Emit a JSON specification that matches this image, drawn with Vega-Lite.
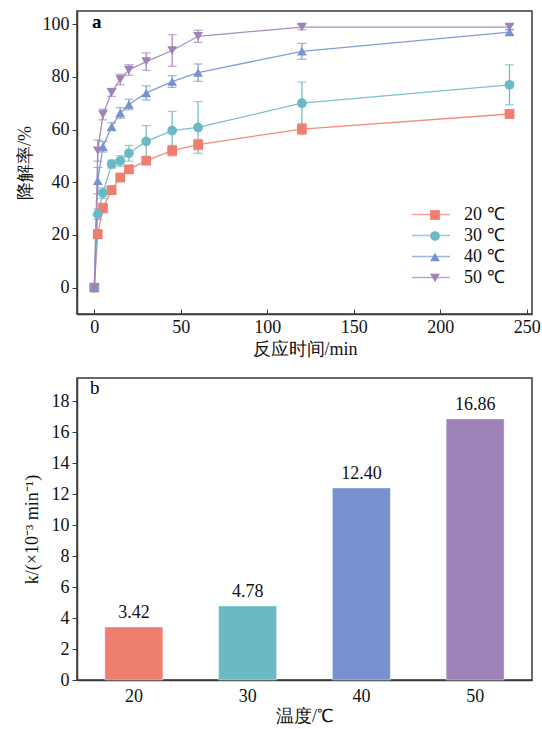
{
  "$schema": "https://vega.github.io/schema/vega-lite/v6.json",
  "padding": {"left": 15, "top": 10, "right": 5, "bottom": 2},
  "spacing": 18,
  "resolve": {"scale": {"fill": "independent", "color": "independent", "stroke": "independent", "shape": "independent"}, "legend": {"fill": "independent", "stroke": "independent", "shape": "independent", "color": "independent"}},
  "config": {
    "font": "Liberation Serif",
    "view": {"stroke": "#3a3a3a", "strokeWidth": 1.5},
    "axis": {
      "labelFont": "Liberation Serif",
      "titleFont": "Liberation Serif",
      "labelFontSize": 18,
      "titleFontSize": 18,
      "labelColor": "#111",
      "titleColor": "#111",
      "titleFontWeight": "normal",
      "domainColor": "#3a3a3a",
      "domainWidth": 1.5,
      "tickColor": "#3a3a3a",
      "tickWidth": 1,
      "grid": false
    },
    "legend": {"labelFont": "Liberation Serif"}
  },
  "datasets": {
    "kinetics": [
      {"temp": "20 ℃", "time": 0, "rate": 0, "err": 0.5},
      {"temp": "20 ℃", "time": 2, "rate": 20.3, "err": 1.5},
      {"temp": "20 ℃", "time": 5, "rate": 30.2, "err": 1.8},
      {"temp": "20 ℃", "time": 10, "rate": 37, "err": 1.5},
      {"temp": "20 ℃", "time": 15, "rate": 41.8, "err": 1},
      {"temp": "20 ℃", "time": 20, "rate": 44.9, "err": 1},
      {"temp": "20 ℃", "time": 30, "rate": 48.2, "err": 1.5},
      {"temp": "20 ℃", "time": 45, "rate": 52, "err": 2},
      {"temp": "20 ℃", "time": 60, "rate": 54.3, "err": 2},
      {"temp": "20 ℃", "time": 120, "rate": 60.2, "err": 2},
      {"temp": "20 ℃", "time": 240, "rate": 65.9, "err": 1.5},
      {"temp": "30 ℃", "time": 0, "rate": 0, "err": 0.5},
      {"temp": "30 ℃", "time": 2, "rate": 27.9, "err": 2},
      {"temp": "30 ℃", "time": 5, "rate": 35.9, "err": 2},
      {"temp": "30 ℃", "time": 10, "rate": 46.9, "err": 1.5},
      {"temp": "30 ℃", "time": 15, "rate": 48.1, "err": 2},
      {"temp": "30 ℃", "time": 20, "rate": 51, "err": 3},
      {"temp": "30 ℃", "time": 30, "rate": 55.5, "err": 6},
      {"temp": "30 ℃", "time": 45, "rate": 59.6, "err": 7.3},
      {"temp": "30 ℃", "time": 60, "rate": 60.8, "err": 9.8},
      {"temp": "30 ℃", "time": 120, "rate": 70, "err": 8},
      {"temp": "30 ℃", "time": 240, "rate": 77, "err": 7.6},
      {"temp": "40 ℃", "time": 0, "rate": 0, "err": 0.5},
      {"temp": "40 ℃", "time": 2, "rate": 40.6, "err": 5},
      {"temp": "40 ℃", "time": 5, "rate": 53.5, "err": 2},
      {"temp": "40 ℃", "time": 10, "rate": 61.1, "err": 1.5},
      {"temp": "40 ℃", "time": 15, "rate": 66.3, "err": 2},
      {"temp": "40 ℃", "time": 20, "rate": 69.5, "err": 2},
      {"temp": "40 ℃", "time": 30, "rate": 73.9, "err": 2.7},
      {"temp": "40 ℃", "time": 45, "rate": 78.2, "err": 2.2},
      {"temp": "40 ℃", "time": 60, "rate": 81.6, "err": 3.3},
      {"temp": "40 ℃", "time": 120, "rate": 89.7, "err": 3},
      {"temp": "40 ℃", "time": 240, "rate": 97, "err": 1},
      {"temp": "50 ℃", "time": 0, "rate": 0, "err": 0.5},
      {"temp": "50 ℃", "time": 2, "rate": 52, "err": 4},
      {"temp": "50 ℃", "time": 5, "rate": 65.7, "err": 2},
      {"temp": "50 ℃", "time": 10, "rate": 74.1, "err": 1.5},
      {"temp": "50 ℃", "time": 15, "rate": 79, "err": 2},
      {"temp": "50 ℃", "time": 20, "rate": 82.6, "err": 2},
      {"temp": "50 ℃", "time": 30, "rate": 85.8, "err": 3.3},
      {"temp": "50 ℃", "time": 45, "rate": 90, "err": 6},
      {"temp": "50 ℃", "time": 60, "rate": 95.4, "err": 2.3},
      {"temp": "50 ℃", "time": 120, "rate": 98.9, "err": 1},
      {"temp": "50 ℃", "time": 240, "rate": 98.9, "err": 1}
    ],
    "rates": [
      {"temp": "20", "k": 3.42, "label": "3.42"},
      {"temp": "30", "k": 4.78, "label": "4.78"},
      {"temp": "40", "k": 12.4, "label": "12.40"},
      {"temp": "50", "k": 16.86, "label": "16.86"}
    ]
  },
  "vconcat": [
    {
      "width": 455,
      "height": 303,
      "title": {"text": "a", "anchor": "start", "frame": "group", "orient": "top", "dx": 15, "dy": 21, "fontSize": 19, "fontWeight": "bold", "font": "Liberation Serif", "offset": 0},
      "data": {"name": "kinetics"},
      "encoding": {
        "x": {"field": "time", "type": "quantitative",
          "scale": {"domain": [-10, 253], "nice": false, "zero": false},
          "axis": {"title": "反应时间/min", "values": [0, 50, 100, 150, 200, 250], "tickSize": -5, "labelPadding": 9, "titlePadding": 4}},
        "y": {"field": "rate", "type": "quantitative",
          "scale": {"domain": [-10, 105], "nice": false, "zero": false},
          "axis": {"title": "降解率/%", "values": [0, 20, 40, 60, 80, 100], "tickSize": 5, "labelPadding": 3, "titlePadding": 8}}
      },
      "layer": [
        {
          "mark": {"type": "errorbar", "ticks": {"size": 9}, "thickness": 1.2},
          "encoding": {
            "y": {"field": "rate", "type": "quantitative"},
            "yError": {"field": "err"},
            "color": {"field": "temp", "type": "nominal",
              "scale": {"domain": ["20 ℃", "30 ℃", "40 ℃", "50 ℃"], "range": ["#ee7f70", "#6cb9c6", "#7892d0", "#9e82b8"]}}
          }
        },
        {
          "mark": {"type": "line", "strokeWidth": 1.3, "opacity": 0.9},
          "encoding": {
            "color": {"field": "temp", "type": "nominal",
              "scale": {"domain": ["20 ℃", "30 ℃", "40 ℃", "50 ℃"], "range": ["#ee7f70", "#6cb9c6", "#7892d0", "#9e82b8"]},
              "legend": {"orient": "none", "legendX": 345, "legendY": 194.5, "title": null, "symbolType": "M-3.8,0H3.8", "symbolSize": 100, "symbolStrokeWidth": 1.3, "labelExpr": "' '", "labelFontSize": 18, "rowPadding": 3, "padding": 0}}
          }
        },
        {
          "mark": {"type": "point", "filled": true, "size": 95, "opacity": 1},
          "encoding": {
            "fill": {"field": "temp", "type": "nominal",
              "scale": {"range": ["#ee7f70", "#6cb9c6", "#7892d0", "#9e82b8"]},
              "legend": {"orient": "bottom-right", "offset": 27, "title": null, "symbolSize": 95, "symbolStrokeWidth": 0, "labelFontSize": 18, "labelColor": "#111", "labelOffset": 20, "rowPadding": 3, "padding": 0}},
            "shape": {"field": "temp", "type": "nominal",
              "scale": {"range": ["square", "circle", "triangle-up", "triangle-down"]},
              "legend": {"orient": "bottom-right", "offset": 27, "title": null, "symbolSize": 95, "symbolStrokeWidth": 0, "labelFontSize": 18, "labelColor": "#111", "labelOffset": 20, "rowPadding": 3, "padding": 0}}
          }
        }
      ]
    },
    {
      "width": 455,
      "height": 302,
      "title": {"text": "b", "anchor": "start", "frame": "group", "orient": "top", "dx": 13, "dy": 20, "fontSize": 19, "fontWeight": "normal", "font": "Liberation Serif", "offset": 0},
      "data": {"name": "rates"},
      "encoding": {
        "x": {"field": "temp", "type": "nominal",
          "scale": {"paddingInner": 0.49, "paddingOuter": 0.245},
          "axis": {"title": "温度/℃", "labelAngle": 0, "ticks": false, "labelPadding": 7, "titlePadding": 2}},
        "y": {"field": "k", "type": "quantitative",
          "scale": {"domain": [0, 19.5], "nice": false},
          "axis": {"title": "k/(×10⁻³ min⁻¹)", "values": [0, 2, 4, 6, 8, 10, 12, 14, 16, 18], "tickSize": 5, "labelPadding": 3, "titlePadding": 10}}
      },
      "layer": [
        {
          "mark": {"type": "bar", "strokeWidth": 1, "strokeOpacity": 0.4},
          "encoding": {
            "fill": {"field": "temp", "type": "nominal",
              "scale": {"range": ["#ee7f70", "#6cb9c6", "#7892d0", "#9e82b8"]}, "legend": null},
            "stroke": {"value": "#ffffff"}
          }
        },
        {
          "mark": {"type": "text", "dy": -14, "fontSize": 18, "color": "#111", "font": "Liberation Serif"},
          "encoding": {"text": {"field": "label"}}
        }
      ]
    }
  ]
}
